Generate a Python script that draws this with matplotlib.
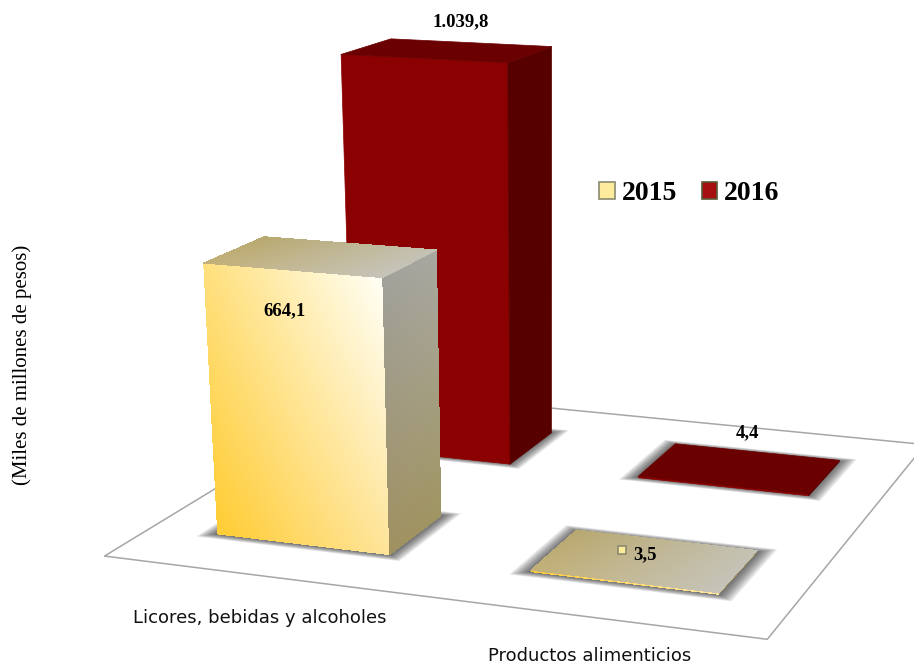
import matplotlib
matplotlib.use("Agg")
import matplotlib.pyplot as plt
import numpy as np
from matplotlib.colors import to_rgb
from matplotlib.patches import Patch
from mpl_toolkits.mplot3d.art3d import Poly3DCollection

categories = ["Licores, bebidas y alcoholes", "Productos alimenticios"]
years = ["2015", "2016"]
values_2015 = [664.1, 3.5]
values_2016 = [1039.8, 4.4]

W, H = 914, 662
HX, HY = 0.28, 0.20

# camera: world point -> pixel in the picture, solved for below
CAL_WORLD = [
    (-.5, -.5, 0), (1.5, -.5, 0), (1.5, 1.5, 0), (-.5, 1.5, 0),
    (-.28, -.2, 0), (.28, -.2, 0), (.28, .2, 0),
    (-.28, -.2, 664.1), (.28, -.2, 664.1), (.28, .2, 664.1), (-.28, .2, 664.1),
    (-.28, .8, 1039.8), (.28, .8, 1039.8), (.28, 1.2, 1039.8), (-.28, 1.2, 1039.8),
    (.28, .8, 0), (.28, 1.2, 0),
    (.72, -.2, 3.5), (1.28, -.2, 3.5), (1.28, .2, 3.5), (.72, .2, 3.5),
    (.72, .8, 4.4), (1.28, .8, 4.4), (1.28, 1.2, 4.4), (.72, 1.2, 4.4),
]
CAL_PIXEL = [
    (103, 555), (767, 637), (925, 443), (381, 391),
    (215, 535), (391, 555), (440, 515),
    (206, 263), (387, 277), (437, 251), (263, 236),
    (340, 53), (509, 67), (550, 45), (387, 36),
    (509, 463), (550, 433),
    (530, 570), (720, 593), (758, 551), (574, 531),
    (635, 476), (810, 494), (840, 460), (672, 443),
]

STYLE_2015 = {
    # corners: (low-left, low-right, top-left, top-right)
    "front": ("#ffcc33", "#fee49a", "#ffe07f", "#fffff6"),
    "side": ("#a09060", "#a09562", "#a1a19a", "#a8a8a2"),
    "top": ("#c2b078", "#c6c4ba", "#b8a870", "#c4c2b4"),
}
STYLE_2016 = {
    "front": ("#8b0000",) * 4,
    "side": ("#570000",) * 4,
    "top": ("#6b0000",) * 4,
}


def fit_camera(ax):
    # pixels to the 2D data space of the 3D axes (square axes centred on the figure)
    x0, x1 = ax.viewLim.intervalx
    y0, y1 = ax.viewLim.intervaly
    off = (W - H) / 2
    rows = []
    for (x, y, z), (px, py) in zip(CAL_WORLD, CAL_PIXEL):
        u = x0 + px / W * (x1 - x0)
        v = y0 + (H - py + off) / W * (y1 - y0)
        p = [x, y, z / 1000, 1]
        rows.append(list(p) + [0, 0, 0, 0] + [-u * c for c in p])
        rows.append([0, 0, 0, 0] + list(p) + [-v * c for c in p])
    _, _, vt = np.linalg.svd(np.array(rows))
    P = vt[-1].reshape(3, 4)
    P[:, 2] /= 1000
    depth = np.linalg.svd(P)[2][-1]
    return np.vstack([P[0], P[1], depth, P[2]])


def gradient_face(ax, corners, colours, zorder, n=80):
    if len(set(colours)) == 1:
        a, b, c, d = corners
        ax.add_collection3d(Poly3DCollection([[a, b, d, c]], facecolors=colours[0],
                                             edgecolors=colours[0], linewidths=0.5, zorder=zorder))
        return
    a, b, c, d = [np.array(p, float) for p in corners]
    s, t = np.meshgrid(np.linspace(0, 1, n), np.linspace(0, 1, n))
    xyz = [(a[i] * (1 - s) * (1 - t) + b[i] * s * (1 - t) + c[i] * (1 - s) * t + d[i] * s * t)
           for i in range(3)]
    ca, cb, cc, cd = [np.array(to_rgb(col)) for col in colours]
    sm = ((s[:-1, :-1] + s[1:, 1:]) / 2)[..., None]
    tm = ((t[:-1, :-1] + t[1:, 1:]) / 2)[..., None]
    rgb = ca * (1 - sm) * (1 - tm) + cb * sm * (1 - tm) + cc * (1 - sm) * tm + cd * sm * tm
    ax.plot_surface(*xyz, facecolors=rgb, rstride=1, cstride=1, shade=False,
                    linewidth=0, antialiased=False, zorder=zorder)


def floor_shadow(ax, x, y, zorder):
    for grow in np.linspace(0.05, 0.006, 12):
        hx, hy = HX + grow, HY + grow * 0.9
        poly = [(x - hx, y - hy, 0), (x + hx, y - hy, 0), (x + hx, y + hy, 0), (x - hx, y + hy, 0)]
        ax.add_collection3d(Poly3DCollection([poly], facecolors=(0.1, 0.1, 0.1, 0.07),
                                             edgecolors="none", zorder=zorder))


def draw_bar(ax, x, y, value, style, zorder):
    floor_shadow(ax, x, y, zorder)
    x0, x1, y0, y1 = x - HX, x + HX, y - HY, y + HY
    gradient_face(ax, [(x0, y0, 0), (x1, y0, 0), (x0, y0, value), (x1, y0, value)],
                  style["front"], zorder + 0.1)
    gradient_face(ax, [(x1, y0, 0), (x1, y1, 0), (x1, y0, value), (x1, y1, value)],
                  style["side"], zorder + 0.2)
    gradient_face(ax, [(x0, y0, value), (x1, y0, value), (x0, y1, value), (x1, y1, value)],
                  style["top"], zorder + 0.3)


def es_number(v):
    return f"{v:,.1f}".replace(",", "X").replace(".", ",").replace("X", ".")


fig = plt.figure(figsize=(W / 100, H / 100), dpi=100, facecolor="white")
ax = fig.add_axes([0, (H - W) / 2 / H, 1, W / H], projection="3d", computed_zorder=False)
ax.set_axis_off()
ax.set_proj_type("ortho")  # only switches off the depth clipping, the matrix is ours
M = fit_camera(ax)
ax.get_proj = lambda: M

floor = [(-.5, -.5, 0), (1.5, -.5, 0), (1.5, 1.5, 0), (-.5, 1.5, 0)]
ax.add_collection3d(Poly3DCollection([floor], facecolors="white", edgecolors="#a6a6a6",
                                     linewidths=1.1, zorder=1))

# back to front
draw_bar(ax, 1, 1, values_2016[1], STYLE_2016, 2)
draw_bar(ax, 1, 0, values_2015[1], STYLE_2015, 3)
draw_bar(ax, 0, 1, values_2016[0], STYLE_2016, 4)
draw_bar(ax, 0, 0, values_2015[0], STYLE_2015, 5)

serif = "Liberation Serif"
label_kw = dict(family=serif, weight="bold", size=13.5, ha="center", va="center", color="black", zorder=9)
ax.text(-0.03, 1.2, values_2016[0] + 50, es_number(values_2016[0]), **label_kw)
ax.text(-0.03, -0.2, 567, es_number(values_2015[0]), **label_kw)
ax.text(0.97, 1.2, values_2016[1] + 50, es_number(values_2016[1]), **label_kw)
ax.text(1.0, 0.0, values_2015[1] + 14, es_number(values_2015[1]), **label_kw)
ax.plot([0.93], [0.0], [values_2015[1] + 18], marker="s", ms=6, mfc="#ffeb9c", mec="#8a8a70", mew=1.2, zorder=9)

sans = dict(family="DejaVu Sans", size=13, ha="center", va="center", color="#111111", zorder=9)
ax.text(0.16, -0.824, 0, categories[0], **sans)
ax.text(1.1, -0.792, 0, categories[1], **sans)

fig.text(22 / W, 1 - 365 / H, "(Miles de millones de pesos)", rotation=90, family=serif,
         size=15, ha="center", va="center", color="black")

handles = [Patch(facecolor="#ffeb9c", edgecolor="#8a8a70", linewidth=1.2),
           Patch(facecolor="#a50f0f", edgecolor="#5a5a3a", linewidth=1.2)]
fig.legend(handles, years, loc="center", bbox_to_anchor=(689.5 / W, 1 - 194 / H), ncols=2, frameon=False,
           prop=dict(family=serif, weight="bold", size=20), handlelength=0.55, handleheight=0.55,
           handletextpad=0.25, columnspacing=0.9, borderpad=0, borderaxespad=0)

fig.savefig("out.png", dpi=100)
